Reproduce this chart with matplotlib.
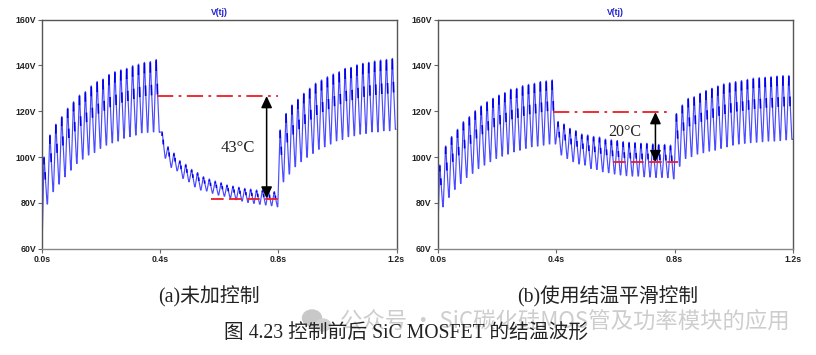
import numpy as np
import matplotlib
matplotlib.use("Agg")
import matplotlib.pyplot as plt
from matplotlib.ticker import FuncFormatter
from matplotlib.patches import Ellipse

W, H = 816, 355

x_ticks = [0.0, 0.4, 0.8, 1.2]
y_ticks = [60, 80, 100, 120, 140, 160]
signal_title = "V(tj)"
caption_a = "(a)未加控制"
caption_b = "(b)使用结温平滑控制"
caption_fig = "图 4.23 控制前后 SiC MOSFET 的结温波形"
watermark = "公众号 · SiC碳化硅MOS管及功率模块的应用"

start_a = 65
peaks_a = [100, 109.6, 114.3, 117.6, 121.3, 124.1, 127, 128.5, 131, 132.9, 134, 136, 137.2, 138, 138.7,
           139.8, 140.5, 141.3, 141.6, 142.5,
           111, 104.5, 101.7, 98.4, 96.8, 94.6, 93.2, 91.4, 90.4, 89.5, 88.8, 87.8, 87.3, 86.8, 86.3,
           86, 85.6, 85.6, 85.3, 84.9,
           111.8, 119, 122.7, 125.2, 127.8, 130, 132.2, 133.6, 135, 136.2, 137.2, 138.7, 139.1, 140.2,
           140.9, 141.3, 141.9, 142.3, 142.6, 143]
shoulders_a = [92.8, 101, 105.2, 108.4, 111.8, 114.7, 117.2, 118.8, 120.9, 122.7, 123.9, 125.6, 126.6, 127.6, 128.3,
               129.2, 130, 130.6, 130.9, 131.4,
               107, 101.4, 99, 95.7, 94.1, 91.9, 90.5, 89.2, 88.2, 87.3, 86.7, 85.8, 85.2, 84.7, 84.1,
               83.8, 83.4, 83.3, 83, 82.6,
               103.9, 109.8, 113.3, 115.7, 118, 120, 122.1, 123.4, 124.7, 126, 126.9, 128.3, 128.7, 129.6,
               130.2, 130.7, 131.1, 131.5, 131.7, 132.2]
troughs_a = [79.5, 84.9, 88.2, 91.4, 94.3, 97.2, 99.1, 100.9, 102, 103.8, 105.2, 106.2, 107, 108.2, 108.9,
             109.6, 110.6, 110.8, 111, 110.8,
             99.5, 95.5, 94, 90.7, 89.2, 87, 85.6, 85.2, 84.2, 83.4, 82.9, 82, 81.4, 80.8, 80.2,
             79.8, 79.4, 79.1, 78.8, 78.3,
             89.2, 92.6, 95.8, 98, 99.9, 101.6, 103.4, 104.5, 105.7, 107.1, 107.7, 108.9, 109.3, 110,
             110.3, 111, 111, 111.5, 111.5, 112.1]

start_b = 69
peaks_b = [96.5, 104.8, 108.9, 112.1, 115.4, 117.6, 120.2, 122.3, 124.1, 125.6, 127, 128.1, 129.6, 130, 131.1,
           131.7, 132.2, 132.9, 133.2, 133.6,
           115.5, 114.4, 112.5, 111.5, 110, 109.6, 109, 108.7, 107.8, 107.5, 107.2, 106.7, 106.4, 106.3, 106,
           106, 105.7, 105.5, 105.5, 105.2,
           119, 122.7, 125.6, 126.3, 127.8, 129, 130, 131, 131.9, 132.4, 132.9, 133.3, 133.9, 134.4,
           134.6, 134.8, 135, 135.3, 135.5, 135.5]
shoulders_b = [90.1, 97, 100.9, 103.8, 106.9, 109, 111.4, 113.3, 115, 116.4, 117.7, 118.7, 120, 120.6, 121.5,
               122.2, 122.6, 123.2, 123.6, 123.8,
               110.4, 109.2, 107.4, 106.4, 105.3, 104.5, 104, 103.4, 102.7, 102.3, 102, 101.5, 101.3, 101.2, 100.9,
               100.9, 100.6, 100.5, 100.4, 100.1,
               111, 114.5, 116.7, 117.6, 118.7, 119.8, 120.6, 121.5, 122.3, 122.9, 123.4, 123.7, 124.2, 124.6,
               124.8, 125.1, 125.2, 125.5, 125.7, 125.8]
troughs_b = [78.3, 82.4, 85.9, 88.5, 91.1, 92.9, 95, 96.5, 98, 99.4, 100.4, 101.3, 102.3, 103, 103.8,
             104.5, 104.8, 105.2, 105.7, 105.7,
             100.9, 99.4, 98, 97, 96.5, 95, 94.6, 93.6, 93.2, 92.6, 92.2, 91.9, 91.7, 91.7, 91.4,
             91.3, 91.1, 91.1, 91, 90.5,
             96, 99.4, 100.2, 101.3, 101.9, 102.6, 103, 103.8, 104.5, 105.2, 105.7, 106, 106.3, 106.5,
             106.7, 107, 107, 107.2, 107.5, 107.7]

mark_high_a, mark_low_a, arrow_a = 126.6, 81.9, "43°C"
mark_high_b, mark_low_b, arrow_b = 119.6, 97.8, "20°C"

plt.rcParams["font.family"] = ["Liberation Sans", "DejaVu Sans"]
fig = plt.figure(figsize=(W / 100, H / 100), dpi=100, facecolor="white")


def make_axes(x0, x1, y0=19.5, y1=248.7):
    return fig.add_axes([x0 / W, 1 - y1 / H, (x1 - x0) / W, (y1 - y0) / H])


def draw_panel(ax, start, peaks, shoulders, troughs):
    p = np.asarray(peaks, float)
    s = np.asarray(shoulders, float)
    q = np.asarray(troughs, float)
    n = len(p)
    t = [0.0]
    v = [start]
    dark_t, dark_v = [], []
    for k in range(n):
        P = 0.006 + 0.02 * k
        Q = 0.017 + 0.02 * k
        t += [P - 0.0004, P + 0.0004, P + 0.0035, Q - 0.0008, Q + 0.0008]
        v += [p[k], p[k], s[k], q[k], q[k]]
        dark_t += [P - 0.0002, P - 0.0002, np.nan, P + 0.0035, P + 0.0042, np.nan]
        dark_v += [p[k] - 0.3, p[k] - 0.45 * (p[k] - s[k]), np.nan, s[k] + 0.6, s[k] - 0.2 * (s[k] - q[k]), np.nan]
    ax.plot(t, v, color="#4a4aff", lw=0.85, solid_joinstyle="round")
    ax.plot(dark_t, dark_v, color="#0000e8", lw=1.2, solid_capstyle="butt")
    ax.set_xlim(0, 1.2)
    ax.set_ylim(60, 160)
    ax.set_xticks(x_ticks)
    ax.set_yticks(y_ticks)
    ax.xaxis.set_major_formatter(FuncFormatter(lambda x, _: f"{x:.1f}s"))
    ax.yaxis.set_major_formatter(FuncFormatter(lambda y, _: f"{y:.0f}V"))
    ax.tick_params(length=3, width=0.8, color="#666666", labelsize=6.3, pad=1.5, labelcolor="#222222")
    for lab in ax.get_xticklabels() + ax.get_yticklabels():
        lab.set_fontweight("bold")
    for sp in ax.spines.values():
        sp.set_color("#555555")
        sp.set_linewidth(1.0)
    ax.spines["bottom"].set_color("#888888")
    ax.set_title(signal_title, fontsize=6.2, color="#2020d0", pad=3, fontweight="bold")


def marks(ax, t_hi, hi, t_lo, lo, t_arrow, label, tx, ty, fs):
    ax.plot(t_hi, [hi, hi], color="#ee1c25", lw=1.3, dashes=(9, 3, 1.5, 3))
    ax.plot(t_lo, [lo, lo], color="#ee1c25", lw=1.3, dashes=(7, 3))
    ax.annotate("", xy=(t_arrow, hi), xytext=(t_arrow, lo), zorder=5,
                arrowprops=dict(arrowstyle="<|-|>,head_length=0.7,head_width=0.33", color="black", lw=1.1,
                                shrinkA=0, shrinkB=0))
    fig.text(tx / W, 1 - ty / H, label, family="Liberation Serif", fontsize=fs, color="#222222",
             ha="center", va="center")


ax1 = make_axes(42.3, 396.5)
ax2 = make_axes(438, 793)
draw_panel(ax1, start_a, peaks_a, shoulders_a, troughs_a)
draw_panel(ax2, start_b, peaks_b, shoulders_b, troughs_b)
marks(ax1, [0.39, 0.8], mark_high_a, [0.57, 0.8], mark_low_a, 0.76, arrow_a, 238, 147.5, 12)
marks(ax2, [0.39, 0.79], mark_high_b, [0.59, 0.81], mark_low_b, 0.735, arrow_b, 625, 132, 11.5)

cap_family = ["Liberation Serif", "Noto Sans CJK SC"]
fig.text(209 / W, 1 - 296.5 / H, caption_a, family=cap_family, fontsize=14.3, color="#222222", ha="center", va="center")
fig.text(608 / W, 1 - 296.5 / H, caption_b, family=cap_family, fontsize=14.2, color="#222222", ha="center", va="center")
fig.text(406.5 / W, 1 - 333.5 / H, caption_fig, family=cap_family, fontsize=14.2, color="#222222", ha="center", va="center")
fig.text(790 / W, 1 - 321 / H, watermark, family=["Noto Sans CJK SC", "DejaVu Sans"], fontsize=16.1, color="#c8c8c8",
         alpha=0.9, ha="right", va="center", zorder=0)

overlay = fig.add_axes([0, 0, 1, 1], facecolor="none", zorder=-1)
overlay.set_xlim(0, W)
overlay.set_ylim(H, 0)
overlay.axis("off")
overlay.add_patch(Ellipse((312, 318), 19, 16, color="#c8c8c8"))
overlay.add_patch(Ellipse((323, 325), 15, 12, color="#d2d2d2"))

fig.savefig("out.png", dpi=100, facecolor="white")
